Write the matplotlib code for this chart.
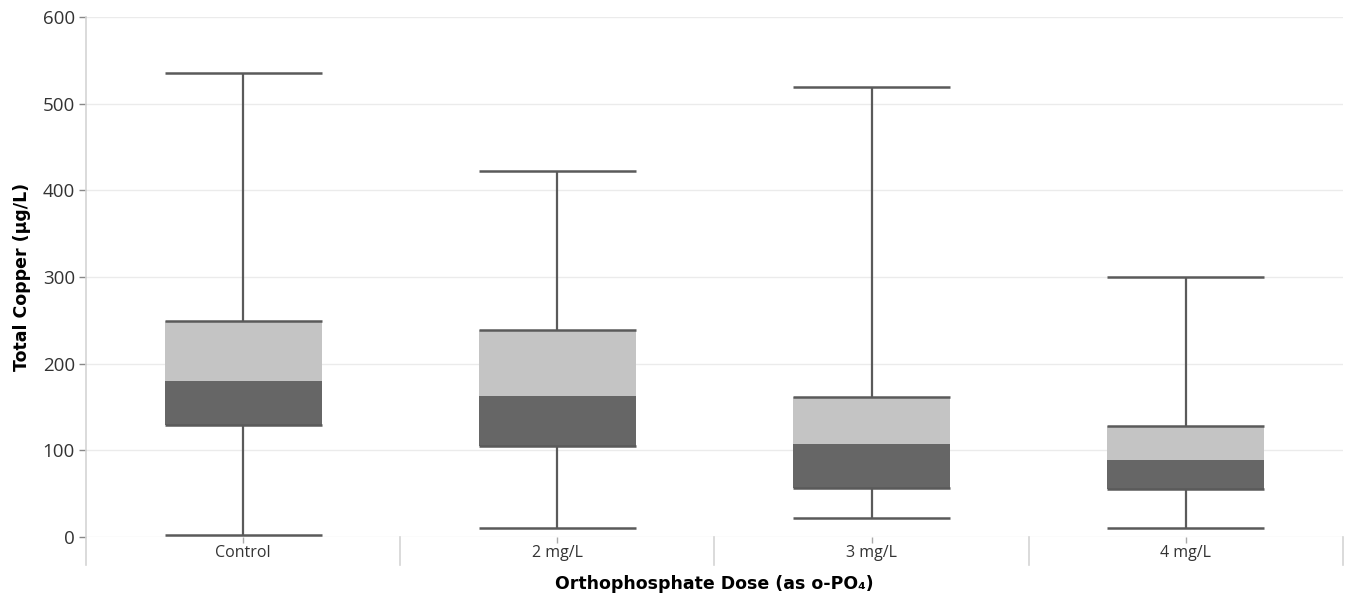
import numpy as np
import matplotlib.pyplot as plt

# box summary per orthophosphate dose (ug/L)
doses = ["Control", "2 mg/L", "3 mg/L", "4 mg/L"]
cu_min = [2, 10, 22, 10]
cu_q1 = [129, 105, 56, 55]
cu_median = [180, 163, 107, 89]
cu_q3 = [249, 239, 162, 128]
cu_max = [535, 422, 519, 300]

line_col = "#5a5a5a"
dark_col = "#666666"
light_col = "#c4c4c4"
axis_col = "#d4d4d4"

fig = plt.figure(figsize=(13.45, 5.97), dpi=100)
ax = fig.add_axes([0.0639, 0.1005, 0.9346, 0.871])

x = np.arange(len(doses))
width = 0.5

q1 = np.array(cu_q1)
med = np.array(cu_median)
q3 = np.array(cu_q3)

ax.bar(x, med - q1, bottom=q1, width=width, color=dark_col, zorder=2)
ax.bar(x, q3 - med, bottom=med, width=width, color=light_col, zorder=2)

ax.vlines(x, cu_min, q1, color=line_col, lw=1.6, zorder=3)
ax.vlines(x, q3, cu_max, color=line_col, lw=1.6, zorder=3)
for vals in (cu_min, q1, q3, cu_max):
    ax.hlines(vals, x - width / 2, x + width / 2, color=line_col, lw=1.8, zorder=3)

ax.set_xlim(-0.5, len(doses) - 0.5)
ax.set_ylim(0, 600)
ax.set_yticks(np.arange(0, 601, 100))
ax.set_xticks(x)
ax.set_xticklabels(doses, fontsize=11.5, color="#333333", family="Open Sans")
for lab in ax.get_yticklabels():
    lab.set_fontfamily("Open Sans")
ax.tick_params(axis="y", labelsize=13.5, labelcolor="#333333", length=5,
               color="#888888", width=1, pad=3)
ax.tick_params(axis="x", length=4, color="#aaaaaa", width=1, pad=2)

ax.grid(axis="y", color="#ebebeb", lw=1, zorder=0)
ax.set_axisbelow(True)
for s in ax.spines.values():
    s.set_visible(False)

# left axis line and band separators reach below the plot
xt = ax.get_xaxis_transform()
ax.plot([-0.5, -0.5], [-0.054, 1], transform=xt, color=axis_col, lw=1.2, clip_on=False)
for b in np.arange(0.5, len(doses), 1.0):
    ax.plot([b, b], [-0.054, 0], transform=xt, color=axis_col, lw=1.2, clip_on=False)

ax.set_ylabel("Total Copper (µg/L)", fontsize=12.5, fontweight="bold",
              family="DejaVu Sans", labelpad=8)
ax.set_xlabel("Orthophosphate Dose (as o-PO₄)", fontsize=12.5, fontweight="bold",
              family="DejaVu Sans", labelpad=10)

fig.savefig("out.png", dpi=100)
